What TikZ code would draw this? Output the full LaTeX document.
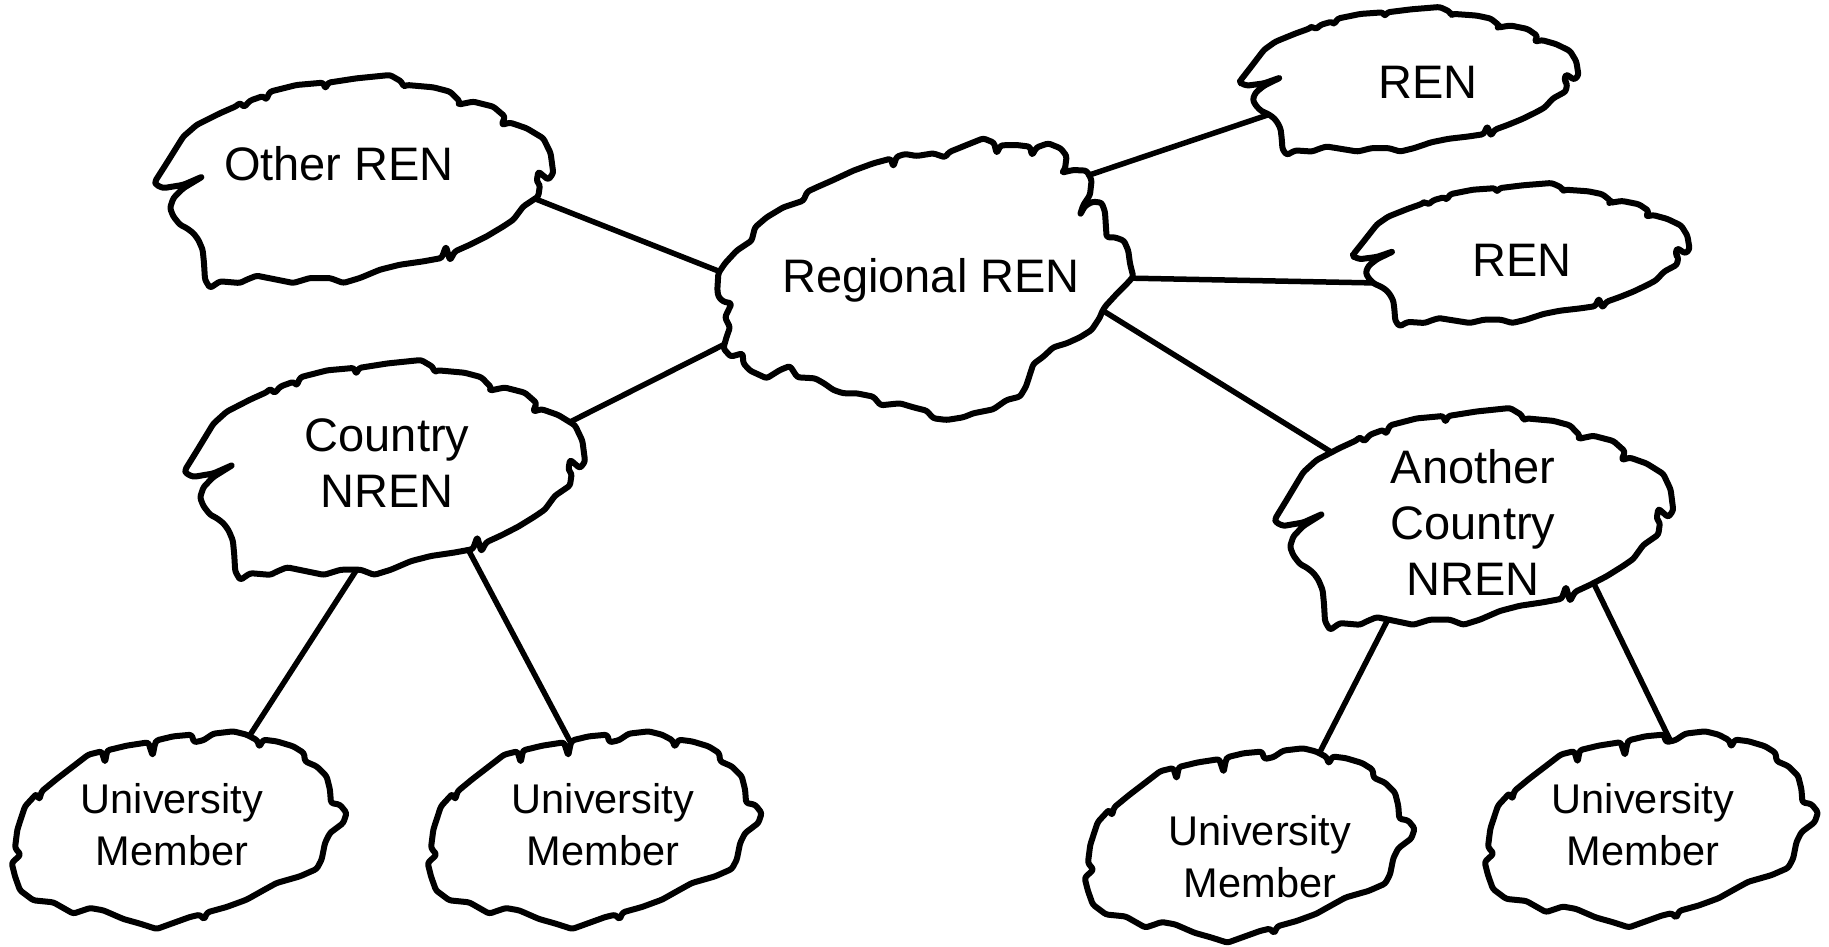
\documentclass[tikz,border=0pt]{standalone}
\usepackage{fontspec}
\setmainfont{Liberation Sans}
\usetikzlibrary{calc,backgrounds}
\tikzset{
  cloudline/.style={draw=black, fill=white, line width=6pt, line join=round, line cap=round, rounded corners=2.5pt},
  link/.style={draw=black, line width=5.5pt},
  bigtext/.style={font=\fontsize{47}{56}\selectfont, inner sep=0pt, anchor=base},
  unitext/.style={font=\fontsize{41.5}{52}\selectfont, inner sep=0pt, anchor=base},
}
% cloud with a pointed, hooked left end (template in 3x pixel units)
\newcommand{\cloudshapeA}[1]{%
\draw[cloudline,#1] (45,335) -- (80,280) -- (130,200) -- (170,165) -- (240,130) -- (290,108) -- (300,98) -- (312,112) -- (330,92) -- (370,78) -- (378,90) -- (390,65) -- (470,45) -- (550,38) -- (556,56) -- (565,38) -- (650,25) -- (750,15) -- (785,35) -- (790,50) -- (800,45) -- (880,52) -- (930,65) -- (960,95) -- (955,104) -- (1000,95) -- (1060,110) -- (1095,140) -- (1085,165) -- (1110,158) -- (1160,175) -- (1210,205) -- (1232,250) -- (1240,310) -- (1225,330) -- (1195,305) -- (1190,335) -- (1200,345) -- (1195,380) -- (1150,410) -- (1120,450) -- (1090,470) -- (1040,500) -- (990,525) -- (945,545) -- (930,572) -- (918,530) -- (905,565) -- (850,575) -- (780,585) -- (720,600) -- (660,625) -- (610,640) -- (570,625) -- (510,625) -- (460,640) -- (420,632) -- (350,618) -- (320,630) -- (300,640) -- (240,635) -- (210,655) -- (195,630) -- (192,580) -- (188,540) -- (175,510) -- (160,490) -- (140,475) -- (120,465) -- (100,440) -- (90,415) -- (100,385) -- (130,355) -- (188,320) -- (130,345) -- (70,355) -- (48,345) -- cycle;}
% oval cloud of the university members
\newcommand{\cloudshapeU}[1]{%
\draw[cloudline,#1] (75,260) -- (110,222) -- (118,240) -- (125,215) -- (170,178) -- (230,132) -- (265,105) -- (305,95) -- (315,128) -- (322,92) -- (380,78) -- (445,68) -- (458,108) -- (465,72) -- (470,62) -- (520,50) -- (575,45) -- (582,68) -- (610,62) -- (640,42) -- (700,35) -- (740,45) -- (772,62) -- (778,82) -- (790,60) -- (830,65) -- (880,80) -- (912,100) -- (915,125) -- (950,140) -- (980,170) -- (990,210) -- (993,250) -- (1020,255) -- (1040,280) -- (1030,310) -- (990,340) -- (975,370) -- (965,420) -- (950,448) -- (900,470) -- (830,490) -- (790,512) -- (740,540) -- (680,562) -- (622,578) -- (612,600) -- (600,585) -- (570,592) -- (520,610) -- (470,628) -- (420,612) -- (370,598) -- (310,572) -- (270,565) -- (220,582) -- (160,548) -- (100,542) -- (60,512) -- (45,470) -- (35,430) -- (62,405) -- (45,385) -- (52,330) -- (65,290) -- cycle;}
\begin{document}
\begin{tikzpicture}[x=1pt,y=-1pt]
\useasboundingbox (0,0) rectangle (1829,947);

% ---- clouds ----
\cloudshapeA{shift={(155,75)},xscale=0.3333,yscale=0.3328,shift={(-45,-15)}}
\cloudshapeA{shift={(185,360)},xscale=0.3348,yscale=0.3438,shift={(-45,-15)}}
\cloudshapeA{shift={(1275,408)},xscale=0.3333,yscale=0.3469,shift={(-45,-15)}}
\cloudshapeA{shift={(1240,7)},xscale=0.2833,yscale=0.2313,shift={(-45,-15)}}
\cloudshapeA{shift={(1353,183)},xscale=0.2817,yscale=0.2240,shift={(-45,-15)}}
\cloudshapeU{shift={(10,728)},xscale=0.3333,yscale=0.3333,shift={(-30,-25)}}
\cloudshapeU{shift={(426,728)},xscale=0.3324,yscale=0.3333,shift={(-30,-25)}}
\cloudshapeU{shift={(1083,745)},xscale=0.3284,yscale=0.3278,shift={(-30,-25)}}
\cloudshapeU{shift={(1483,728)},xscale=0.3317,yscale=0.3306,shift={(-30,-25)}}
% regional cloud
\draw[cloudline,shift={(700,130)},scale=0.3333] (52,480) -- (55,430) -- (75,400) -- (110,362) -- (155,332) -- (165,292) -- (200,262) -- (250,232) -- (310,212) -- (322,185) -- (350,172) -- (400,150) -- (460,122) -- (520,100) -- (572,86) -- (580,110) -- (590,80) -- (615,72) -- (650,78) -- (700,70) -- (735,82) -- (748,66) -- (800,45) -- (850,25) -- (882,38) -- (890,70) -- (902,46) -- (950,45) -- (990,50) -- (996,76) -- (1010,52) -- (1045,40) -- (1082,55) -- (1100,78) -- (1095,118) -- (1085,128) -- (1120,120) -- (1160,122) -- (1175,150) -- (1170,195) -- (1150,225) -- (1140,255) -- (1155,228) -- (1178,215) -- (1205,218) -- (1215,245) -- (1220,322) -- (1245,322) -- (1272,332) -- (1285,362) -- (1290,400) -- (1300,440) -- (1280,462) -- (1250,492) -- (1215,530) -- (1205,548) -- (1200,562) -- (1175,600) -- (1140,622) -- (1100,640) -- (1060,652) -- (1030,680) -- (1000,702) -- (978,770) -- (960,800) -- (920,810) -- (880,838) -- (820,850) -- (790,862) -- (740,870) -- (700,865) -- (680,842) -- (640,832) -- (600,820) -- (542,826) -- (520,800) -- (470,790) -- (430,790) -- (400,780) -- (372,760) -- (345,745) -- (292,742) -- (270,708) -- (240,720) -- (200,745) -- (150,722) -- (130,700) -- (128,670) -- (92,680) -- (70,655) -- (80,620) -- (90,592) -- (75,562) -- (88,535) -- (95,520) -- (70,515) -- (55,500) -- cycle;

% ---- labels ----
\node[bigtext] (oth) at (339,181) {Other REN};
\node[bigtext] (reg) at (931,292) {Regional REN};
\node[bigtext] (renA) at (1428,99) {REN};
\node[bigtext] (renB) at (1522,276) {REN};
\node[bigtext] (cty) at (387,507) {\begin{tabular}[b]{@{}c@{}}Country\\NREN\end{tabular}};
\node[bigtext] (ano) at (1473,595) {\begin{tabular}[b]{@{}c@{}}Another\\Country\\NREN\end{tabular}};
\node[unitext] (uA) at (172,865) {\begin{tabular}[b]{@{}c@{}}University\\Member\end{tabular}};
\node[unitext] (uB) at (603,865) {\begin{tabular}[b]{@{}c@{}}University\\Member\end{tabular}};
\node[unitext] (uC) at (1260,897) {\begin{tabular}[b]{@{}c@{}}University\\Member\end{tabular}};
\node[unitext] (uD) at (1643,865) {\begin{tabular}[b]{@{}c@{}}University\\Member\end{tabular}};

% ---- connectors (behind the white-filled clouds) ----
\begin{scope}[on background layer]
\fill[white] (0,0) rectangle (1829,947);
\draw[link] ($(oth.base)+(189,15)$) -- ($(reg.base)+(-200,-16)$);
\draw[link] ($(reg.base)+(-199,48.5)$) -- ($(cty.base)+(174,-80.5)$);
\draw[link] ($(reg.base)+(149.5,-114)$) -- ($(renA.base)+(-145.5,11)$);
\draw[link] ($(reg.base)+(192,-14)$) -- ($(renB.base)+(-145,7)$);
\draw[link] ($(reg.base)+(165.5,14.7)$) -- ($(ano.base)+(-136.5,-139.7)$);
\draw[link] ($(cty.base)+(-29.6,61.6)$) -- ($(uA.base)+(72.6,-121.6)$);
\draw[link] ($(cty.base)+(78.3,37)$) -- ($(uB.base)+(-26.3,-111.1)$);
\draw[link] ($(ano.base)+(-83.4,21.1)$) -- ($(uC.base)+(57.4,-140.1)$);
\draw[link] ($(ano.base)+(119.6,-14)$) -- ($(uD.base)+(31.4,-116)$);
\end{scope}
\end{tikzpicture}
\end{document}
